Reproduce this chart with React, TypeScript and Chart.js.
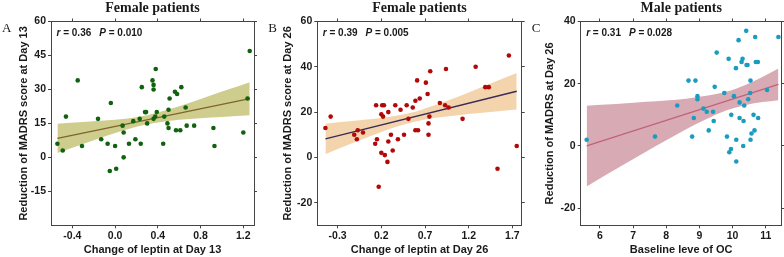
import React, { useEffect, useRef } from "react";
import { Chart, registerables } from "chart.js";
Chart.register(...registerables);

// ---------- Panel A data ----------
const xA = [-0.54, -0.49, -0.46, -0.35, -0.31, -0.16, -0.13, -0.07, -0.04, -0.05, 0.01, 0.0, 0.07, 0.08, 0.08, 0.13, 0.17, 0.19, 0.23, 0.24, 0.25, 0.28, 0.29, 0.30, 0.35, 0.36, 0.36, 0.36, 0.375, 0.38, 0.39, 0.45, 0.46, 0.50, 0.49, 0.50, 0.51, 0.56, 0.58, 0.57, 0.61, 0.62, 0.66, 0.67, 0.74, 0.92, 0.93, 1.20, 1.24, 1.26];
const yA = [6, 3, 18, 34, 5, 17, 8, 6, 24, -6, -5, 5, 14, 11, 0, 6, 16, 8, 17, 6, 31, 20, 20, 15, 34, 32, 30, 17, 18, 39, 20, 6, 18, 21, 15, 13, 26, 29, 28, 12, 12, 31, 22, 14, 14, 13, 5, 11, 26, 47];
const fitXA = [-0.54, 1.26];
const fitYA = [8.4, 25.9];
const bandXA = [-0.54, -0.3, -0.1, 0.1, 0.3, 0.5, 0.7, 0.9, 1.1, 1.26];
const bandUpA = [14.9, 15.6, 16.3, 17.1, 18.6, 21.1, 24.1, 27.4, 30.6, 33.2];
const bandLoA = [1.9, 5.9, 9.2, 12.2, 14.6, 16.1, 16.9, 17.6, 18.2, 18.6];
const xTicksA = [-0.4, 0.0, 0.4, 0.8, 1.2];
const yTicksA = [-15, 0, 15, 30, 45, 60];

// ---------- Panel B data ----------
const xB = [-0.44, -0.38, -0.11, -0.08, -0.07, -0.01, 0.13, 0.15, 0.14, 0.17, 0.20, 0.21, 0.23, 0.22, 0.20, 0.24, 0.27, 0.28, 0.28, 0.31, 0.33, 0.36, 0.39, 0.42, 0.46, 0.49, 0.51, 0.56, 0.59, 0.59, 0.61, 0.62, 0.64, 0.71, 0.73, 0.74, 0.74, 0.75, 0.76, 0.87, 0.93, 0.94, 0.97, 1.13, 1.28, 1.39, 1.43, 1.53, 1.66, 1.75];
const yB = [13, 18, 10, 8, 12, 11, 6, 8, 23, -13, 19, 23, 23, 18, 2, 1, -2, 7, 20, 10, 3, 23, 8, 21, 10, 23, 17, 22, 25, 12, 34, 12, 26, 33, 28, 10, 15, 18, 38, 24, 23, 39, 22, 17, 40, 31, 31, -5, 45, 5];
const fitXB = [-0.44, 1.75];
const fitYB = [8.2, 29.2];
const bandXB = [-0.44, -0.2, 0.0, 0.2, 0.4, 0.6, 0.8, 1.0, 1.2, 1.45, 1.75];
const bandUpB = [14.9, 15.8, 16.6, 17.4, 18.6, 20.3, 22.9, 25.7, 28.7, 32.6, 37.3];
const bandLoB = [1.4, 5.2, 8.2, 11.2, 13.8, 15.9, 17.4, 18.3, 19.1, 20.0, 21.1];
const xTicksB = [-0.3, 0.2, 0.7, 1.2, 1.7];
const yTicksB = [-20, 0, 20, 40, 60];

// ---------- Panel C data ----------
const xC = [5.6, 7.66, 8.33, 8.67, 8.78, 8.83, 8.88, 8.94, 8.94, 9.12, 9.22, 9.28, 9.41, 9.43, 9.46, 9.52, 9.75, 9.83, 9.88, 9.9, 9.95, 9.96, 10.04, 10.1, 10.11, 10.11, 10.18, 10.21, 10.21, 10.27, 10.3, 10.32, 10.33, 10.35, 10.41, 10.42, 10.47, 10.54, 10.53, 10.54, 10.57, 10.63, 10.66, 10.68, 10.7, 10.76, 10.77, 11.04, 11.38, 10.45];
const yC = [2, 3, 13, 21, 3, 9, 21, 16, 15, 12, 11, 5, 11, 8, 19, 30, 17, 3, 28, -2, -1, 10, 16, 25, -5, 2, 34, 14, 9, 27, 28, 0, 8, 13, 37, 26, 15, 21, 17, 2, 4, 10, 5, 35, 27, 27, 9, 18, 35, 26];
const fitXC = [5.6, 11.38];
const fitYC = [0, 19.8];
const bandXC = [5.6, 6.2, 6.8, 7.4, 8.0, 8.6, 9.2, 9.8, 10.4, 10.9, 11.38];
const bandUpC = [12.9, 13.3, 13.7, 14.2, 14.6, 15.2, 16.1, 17.4, 19.7, 22.2, 24.9];
const bandLoC = [-13.0, -9.2, -5.5, -1.8, 1.8, 5.4, 8.6, 11.4, 13.2, 14.1, 14.7];
const xTicksC = [6, 7, 8, 9, 10, 11];
const yTicksC = [-20, 0, 20, 40];

const SANS = '"Liberation Sans", Arial, Helvetica, sans-serif';
const SERIF = '"Liberation Serif", "Times New Roman", serif';
const AXIS = "#444";
const TEXT = "#1a1a1a";

type PanelCfg = {
  left: number; width: number;
  yW: number; y2W: number; yTitlePad: number;
  title: string; letter: string; r: string; p: string;
  xTitle: string; yTitle: string;
  xs: number[]; ys: number[]; fitX: number[]; fitY: number[];
  bandX: number[]; bandUp: number[]; bandLo: number[];
  xTicks: number[]; yTicks: number[]; xDec: number;
  xMin: number; xMax: number; yMin: number; yMax: number;
  dot: string; line: string; band: string;
};

const panels: PanelCfg[] = [
  {
    left: 0, width: 262, yW: 51, y2W: 8, yTitlePad: 17.4,
    title: "Female patients", letter: "A", r: "0.36", p: "0.010",
    xTitle: "Change of leptin at Day 13", yTitle: "Reduction of MADRS score at Day 13",
    xs: xA, ys: yA, fitX: fitXA, fitY: fitYA, bandX: bandXA, bandUp: bandUpA, bandLo: bandLoA,
    xTicks: xTicksA, yTicks: yTicksA, xDec: 1,
    xMin: -0.6, xMax: 1.3, yMin: -30, yMax: 60,
    dot: "#11620f", line: "#7f6428", band: "#cfcd8e",
  },
  {
    left: 262, width: 264, yW: 55.3, y2W: 4.3, yTitlePad: 19.7,
    title: "Female patients", letter: "B", r: "0.39", p: "0.005",
    xTitle: "Change of leptin at Day 26", yTitle: "Reduction of MADRS score at Day 26",
    xs: xB, ys: yB, fitX: fitXB, fitY: fitYB, bandX: bandXB, bandUp: bandUpB, bandLo: bandLoB,
    xTicks: xTicksB, yTicks: yTicksB, xDec: 1,
    xMin: -0.533, xMax: 1.807, yMin: -30, yMax: 60,
    dot: "#b20808", line: "#3a2a58", band: "#f3d4ad",
  },
  {
    left: 526, width: 258, yW: 54.7, y2W: 1, yTitlePad: 17.4,
    title: "Male patients", letter: "C", r: "0.31", p: "0.028",
    xTitle: "Baseline leve of OC", yTitle: "Reduction of MADRS at Day 26",
    xs: xC, ys: yC, fitX: fitXC, fitY: fitYC, bandX: bandXC, bandUp: bandUpC, bandLo: bandLoC,
    xTicks: xTicksC, yTicks: yTicksC, xDec: 0,
    xMin: 5.42, xMax: 11.48, yMin: -25.5, yMax: 40,
    dot: "#1a9cbf", line: "#c0627c", band: "#d8aab4",
  },
];

const TOP_H = 21.5;
const BOTTOM_H = 31.7;

function makeConfig(p: PanelCfg): any {
  const tickFont = { family: SANS, size: 10.5, weight: "bold" as const };
  const titleFont = { family: SANS, size: 11, weight: "bold" as const };
  const pts = (xs: number[], ys: number[]) => xs.map((x, i) => ({ x, y: ys[i] }));
  const gridCfg = { drawOnChartArea: false, drawTicks: true, tickLength: 3, color: AXIS, lineWidth: 1 };
  const borderCfg = { display: true, color: AXIS, width: 1 };

  const decor = {
    id: "decor" + p.letter,
    afterDraw(chart: any) {
      const { ctx, chartArea: ca } = chart;
      ctx.save();
      ctx.fillStyle = TEXT;
      ctx.textBaseline = "alphabetic";
      // panel title
      ctx.font = `bold 14px ${SERIF}`;
      ctx.textAlign = "center";
      ctx.fillText(p.title, (ca.left + ca.right) / 2, 11.5);
      // letter
      ctx.font = `13px ${SERIF}`;
      ctx.textAlign = "left";
      ctx.fillText(p.letter, ca.left - 49, 32);
      // r / P annotation
      ctx.textBaseline = "middle";
      let x = ca.left + 5.5;
      const y = 33;
      const parts: [string, boolean][] = [["r", true], [" = " + p.r, false]];
      for (const [t, it] of parts) {
        ctx.font = `${it ? "italic " : ""}bold 10px ${SANS}`;
        ctx.fillText(t, x, y);
        x += ctx.measureText(t).width;
      }
      x += 8;
      const parts2: [string, boolean][] = [["P", true], [" = " + p.p, false]];
      for (const [t, it] of parts2) {
        ctx.font = `${it ? "italic " : ""}bold 10px ${SANS}`;
        ctx.fillText(t, x, y);
        x += ctx.measureText(t).width;
      }
      ctx.restore();
    },
  };

  return {
    type: "line",
    data: {
      datasets: [
        {
          data: pts(p.xs, p.ys), showLine: false, pointRadius: 2.3, pointHoverRadius: 0,
          pointBackgroundColor: p.dot, pointBorderWidth: 0, pointBorderColor: p.dot, order: 0,
        },
        {
          data: pts(p.fitX, p.fitY), borderColor: p.line, borderWidth: 1.3, pointRadius: 0, fill: false, order: 1,
        },
        {
          data: pts(p.bandX, p.bandLo), borderColor: "rgba(0,0,0,0)", borderWidth: 1, pointRadius: 0,
          fill: false, cubicInterpolationMode: "monotone", order: 3,
        },
        {
          data: pts(p.bandX, p.bandUp), borderColor: "rgba(0,0,0,0)", borderWidth: 1, pointRadius: 0,
          fill: 2, backgroundColor: p.band, cubicInterpolationMode: "monotone", order: 2,
        },
      ],
    },
    options: {
      animation: false,
      responsive: false,
      events: [],
      layout: { padding: 0 },
      plugins: { legend: { display: false }, tooltip: { enabled: false }, title: { display: false } },
      scales: {
        x: {
          type: "linear", position: "bottom", min: p.xMin, max: p.xMax,
          afterBuildTicks: (s: any) => { s.ticks = p.xTicks.map((v) => ({ value: v })); },
          afterFit: (s: any) => { s.height = BOTTOM_H; },
          ticks: {
            font: tickFont, color: TEXT, padding: 1.5, maxRotation: 0, autoSkip: false,
            callback: (v: any) => Number(v).toFixed(p.xDec),
          },
          grid: gridCfg, border: borderCfg,
          title: { display: true, text: p.xTitle, font: titleFont, color: TEXT, padding: { top: 0, bottom: 0 } },
        },
        x2: {
          type: "linear", position: "top", axis: "x", min: p.xMin, max: p.xMax,
          afterBuildTicks: (s: any) => { s.ticks = p.xTicks.map((v) => ({ value: v })); },
          afterFit: (s: any) => { s.height = TOP_H; },
          ticks: { display: false }, grid: gridCfg, border: borderCfg,
        },
        y: {
          type: "linear", position: "left", min: p.yMin, max: p.yMax,
          afterBuildTicks: (s: any) => { s.ticks = p.yTicks.map((v) => ({ value: v })); },
          afterFit: (s: any) => { s.width = p.yW; },
          ticks: { font: tickFont, color: TEXT, padding: 2, autoSkip: false, callback: (v: any) => String(v) },
          grid: gridCfg, border: borderCfg,
          title: { display: true, text: p.yTitle, font: titleFont, color: TEXT, padding: { top: p.yTitlePad, bottom: 0 } },
        },
        y2: {
          type: "linear", position: "right", axis: "y", min: p.yMin, max: p.yMax,
          afterBuildTicks: (s: any) => { s.ticks = p.yTicks.map((v) => ({ value: v })); },
          afterFit: (s: any) => { s.width = p.y2W; },
          ticks: { display: false }, grid: gridCfg, border: borderCfg,
        },
      },
    },
    plugins: [decor],
  };
}

function Panel({ cfg }: { cfg: PanelCfg }) {
  const ref = useRef<HTMLCanvasElement | null>(null);
  useEffect(() => {
    if (!ref.current) return;
    const chart = new Chart(ref.current, makeConfig(cfg));
    return () => chart.destroy();
  }, [cfg]);
  return (
    <canvas
      ref={ref}
      width={cfg.width}
      height={257}
      style={{ position: "absolute", left: cfg.left, top: 0, width: cfg.width, height: 257, display: "block" }}
    />
  );
}

export default function App() {
  return (
    <div style={{ position: "absolute", left: 0, top: 0, width: 784, height: 257, background: "#fff", overflow: "hidden" }}>
      {panels.map((p) => (
        <Panel key={p.letter} cfg={p} />
      ))}
    </div>
  );
}
